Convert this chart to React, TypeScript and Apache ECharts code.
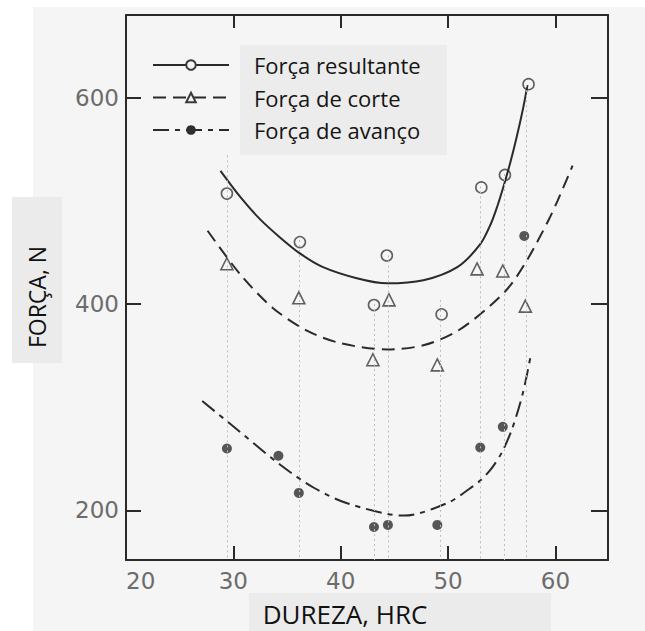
import React, { useEffect, useRef } from "react";
import * as echarts from "echarts";

// Axis ticks and labels
const xTickLabels = [20, 30, 40, 50, 60];
const xTicks = [30, 40, 50, 60];
const yTicks = [200, 400, 600];

// Measured points (hardness HRC, force N)
const resultanteX = [29.4, 36.2, 43.1, 44.3, 49.4, 53.1, 55.3, 57.5];
const resultanteY = [507, 460, 399, 447, 390, 513, 525, 613];

const corteX = [29.4, 36.1, 43.0, 44.5, 49.0, 52.7, 55.1, 57.2];
const corteY = [439, 406, 346, 404, 341, 434, 432, 398];

const avancoX = [29.4, 34.2, 36.1, 43.1, 44.4, 49.0, 53.0, 55.1, 57.1];
const avancoY = [260, 253, 217, 184, 186, 186, 261, 281, 466];

// Hand-fitted trend curves
const resultanteFitX = [28.8, 30.7, 32.5, 34.4, 36.2, 38.3, 41.5, 44.3, 47.7, 50.9, 53.0, 54.0, 54.6, 55.2, 55.8, 56.4, 57.0, 57.4];
const resultanteFitY = [529, 503, 482, 464, 449, 436, 425, 420, 423, 436, 458, 478, 495, 515, 537, 562, 590, 612];

const corteFitX = [27.6, 30.7, 33.7, 36.9, 40.0, 44.3, 47.7, 50.9, 54.0, 55.8, 57.5, 59.3, 60.2, 61.6];
const corteFitY = [471, 428, 396, 374, 362, 356, 360, 374, 399, 418, 445, 480, 500, 534];

const avancoFitX = [27.1, 29.7, 34.4, 37.5, 40.6, 45.9, 49.9, 52.0, 53.0, 54.0, 55.0, 56.0, 57.0, 57.7];
const avancoFitY = [306, 284, 244, 222, 207, 195, 207, 221, 229, 240, 256, 280, 315, 350];

// Dotted drop lines from each specimen's readings to the axis
const guideX = [29.4, 36.1, 43.1, 44.4, 49.3, 53.0, 55.2, 57.3];
const guideTop = [544, 462, 400, 447, 404, 514, 526, 612];

const seriesNames = ["Força resultante", "Força de corte", "Força de avanço"];

const X_MIN = 20;
const X_MAX = 64.9;
const Y_MIN = 152;
const Y_MAX = 680;

const INK = "#2a2a2a";
const PAPER = "#f5f5f5";

const zip = (xs: number[], ys: number[]) => xs.map((x, i) => [x, ys[i]]);

export default function App() {
  const ref = useRef<HTMLDivElement>(null);

  useEffect(() => {
    if (!ref.current) return;
    const chart = echarts.init(ref.current, undefined, { renderer: "svg" });

    const frameLine = { show: true, onZero: false, lineStyle: { color: INK, width: 2 } };
    const tickStyle = { color: INK, width: 2 };
    const labelStyle = { fontFamily: "DejaVu Sans", fontSize: 23, color: "#6c6c6c" };

    const fitLine = (idx: number, xs: number[], ys: number[], symbol: string, itemStyle: any, type: any) => ({
      name: seriesNames[idx],
      type: "line",
      smooth: 0.3,
      showSymbol: false,
      symbol,
      symbolSize: 9,
      itemStyle,
      lineStyle: { color: INK, width: 2, type },
      data: zip(xs, ys),
    });

    const hollow = { color: PAPER, borderColor: "#3a3a3a", borderWidth: 1.5 };
    const solidDot = { color: "#2e2e2e" };

    const option: echarts.EChartsOption = {
      animation: false,
      backgroundColor: "#ffffff",
      graphic: [
        { type: "rect", z: -10, shape: { x: 33, y: 7, width: 612, height: 624 }, style: { fill: PAPER } },
        { type: "rect", z: -5, shape: { x: 240, y: 45, width: 207, height: 110 }, style: { fill: "#ececec" } },
        { type: "rect", z: -5, shape: { x: 12, y: 197, width: 50, height: 166 }, style: { fill: "#ebebeb" } },
        { type: "rect", z: -5, shape: { x: 249, y: 593, width: 302, height: 38 }, style: { fill: "#ebebeb" } },
        {
          type: "text",
          x: 37,
          y: 297,
          rotation: Math.PI / 2,
          style: {
            text: "FORÇA, N",
            fontFamily: "Open Sans",
            fontSize: 23,
            lineHeight: 23,
            fill: "#111",
            align: "center",
            verticalAlign: "middle",
          },
        },
        {
          type: "text",
          x: 345,
          y: 614,
          style: {
            text: "DUREZA, HRC",
            fontFamily: "Open Sans",
            fontSize: 26,
            lineHeight: 26,
            fill: "#111",
            align: "center",
            verticalAlign: "middle",
          },
        },
      ],
      grid: { left: 126, top: 15, width: 482, height: 545, containLabel: false },
      legend: {
        left: 152,
        top: 54,
        padding: 0,
        orient: "vertical",
        itemWidth: 76,
        itemHeight: 12,
        itemGap: 10.5,
        selectedMode: false,
        data: seriesNames,
        textStyle: {
          fontFamily: "Open Sans",
          fontSize: 22,
          lineHeight: 22,
          color: "#151515",
          padding: [0, 0, 0, 20],
        },
      },
      xAxis: [
        {
          type: "value",
          position: "bottom",
          min: X_MIN,
          max: X_MAX,
          axisLine: frameLine,
          axisTick: { show: true, inside: true, length: 14, customValues: xTicks, lineStyle: tickStyle },
          axisLabel: { ...labelStyle, customValues: xTickLabels, alignMinLabel: "left", margin: 9 },
          splitLine: { show: false },
        } as any,
        {
          type: "value",
          position: "top",
          min: X_MIN,
          max: X_MAX,
          axisLine: frameLine,
          axisTick: { show: true, inside: true, length: 13, customValues: xTicks, lineStyle: tickStyle },
          axisLabel: { show: false },
          splitLine: { show: false },
        } as any,
      ],
      yAxis: [
        {
          type: "value",
          position: "left",
          min: Y_MIN,
          max: Y_MAX,
          axisLine: frameLine,
          axisTick: { show: true, inside: true, length: 15, customValues: yTicks, lineStyle: tickStyle },
          axisLabel: { ...labelStyle, customValues: yTicks, margin: 7 },
          splitLine: { show: false },
        } as any,
        {
          type: "value",
          position: "right",
          min: Y_MIN,
          max: Y_MAX,
          axisLine: frameLine,
          axisTick: { show: true, inside: true, length: 17, customValues: yTicks, lineStyle: tickStyle },
          axisLabel: { show: false },
          splitLine: { show: false },
        } as any,
      ],
      series: [
        {
          name: "guias",
          type: "line",
          data: [],
          silent: true,
          markLine: {
            silent: true,
            symbol: ["none", "none"],
            label: { show: false },
            lineStyle: { type: [2, 3], color: "#bdbdbd", width: 1 },
            data: guideX.map((x, i) => [{ coord: [x, guideTop[i]] }, { coord: [x, Y_MIN] }]),
          },
        } as any,
        fitLine(0, resultanteFitX, resultanteFitY, "circle", hollow, "solid"),
        fitLine(1, corteFitX, corteFitY, "triangle", hollow, [13, 7]),
        fitLine(2, avancoFitX, avancoFitY, "circle", solidDot, [16, 6, 5, 6]),
        {
          name: seriesNames[0],
          type: "scatter",
          symbol: "circle",
          symbolSize: 11,
          itemStyle: { ...hollow, borderWidth: 1.6 },
          data: zip(resultanteX, resultanteY),
        },
        {
          name: seriesNames[1],
          type: "scatter",
          symbol: "triangle",
          symbolSize: 12,
          itemStyle: { ...hollow, borderWidth: 1.6 },
          data: zip(corteX, corteY),
        },
        {
          name: seriesNames[2],
          type: "scatter",
          symbol: "circle",
          symbolSize: 10,
          itemStyle: solidDot,
          data: zip(avancoX, avancoY),
        },
      ] as any,
    };

    chart.setOption(option);
    return () => chart.dispose();
  }, []);

  return (
    <div
      ref={ref}
      style={{ position: "absolute", left: 0, top: 0, width: 645, height: 631 }}
    />
  );
}
